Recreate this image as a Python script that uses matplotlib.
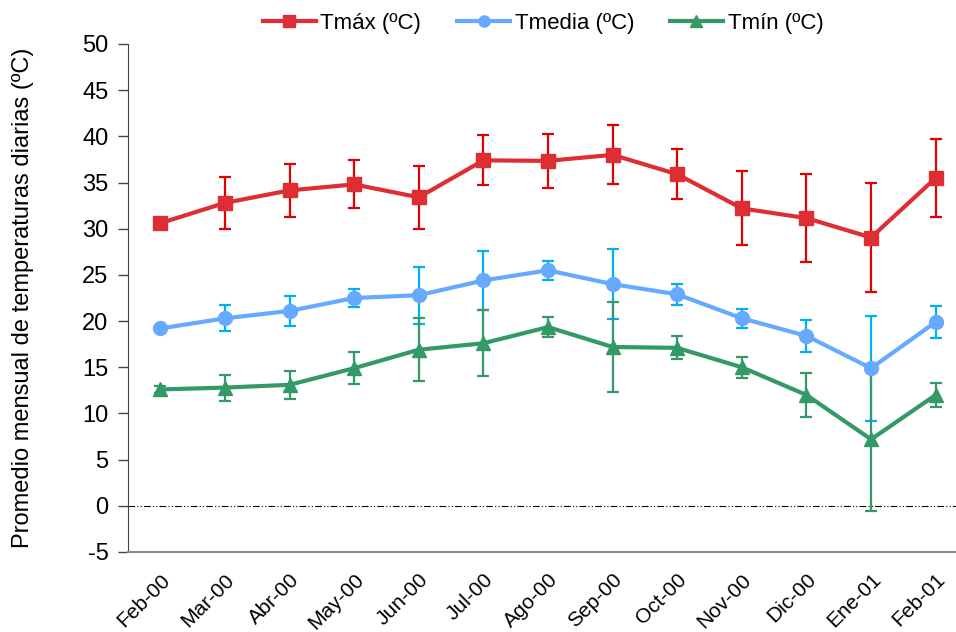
import numpy as np
import matplotlib
matplotlib.use('Agg')
import matplotlib.pyplot as plt

plt.rcParams['font.family'] = ['Liberation Sans', 'DejaVu Sans']
plt.rcParams['axes.unicode_minus'] = False

meses = ['Feb-00', 'Mar-00', 'Abr-00', 'May-00', 'Jun-00', 'Jul-00', 'Ago-00',
         'Sep-00', 'Oct-00', 'Nov-00', 'Dic-00', 'Ene-01', 'Feb-01']

# promedios mensuales y desviaciones
tmax = [30.6, 32.8, 34.15, 34.8, 33.4, 37.4, 37.35, 38.0, 35.9, 32.2, 31.15, 29.05, 35.5]
tmax_sd = [0.0, 2.8, 2.85, 2.6, 3.4, 2.7, 2.95, 3.2, 2.7, 4.0, 4.75, 5.95, 4.2]

tmedia = [19.2, 20.3, 21.1, 22.5, 22.8, 24.4, 25.5, 24.0, 22.9, 20.3, 18.4, 14.9, 19.9]
tmedia_sd = [0.0, 1.4, 1.6, 0.95, 3.1, 3.2, 1.05, 3.8, 1.15, 1.05, 1.7, 5.7, 1.75]

tmin = [12.6, 12.8, 13.1, 14.9, 16.9, 17.6, 19.35, 17.2, 17.1, 15.0, 12.0, 7.2, 12.0]
tmin_sd = [0.4, 1.4, 1.5, 1.7, 3.4, 3.55, 1.05, 4.85, 1.25, 1.15, 2.35, 7.8, 1.25]

x = np.arange(len(meses))

fig = plt.figure(figsize=(9.56, 6.32), dpi=100)
ax = fig.add_axes([128 / 956, 80 / 632, 840 / 956, 508 / 632])

series = [
    (tmax, tmax_sd, 'Tmáx (ºC)', '#DE2E33', '#E00000', 's', 10),
    (tmedia, tmedia_sd, 'Tmedia (ºC)', '#66AAFF', '#00B0F0', 'o', 10),
    (tmin, tmin_sd, 'Tmín (ºC)', '#339966', '#339966', '^', 10),
]

for vals, sd, lab, col, ecol, mk, ms in series:
    ax.errorbar(x, vals, yerr=sd, fmt='none', ecolor=ecol, elinewidth=1.6,
                capsize=4.5, capthick=1.6, zorder=2)
    ax.plot(x, vals, color=col, marker=mk, markersize=ms, linewidth=3,
            label=lab, zorder=3)

ax.axhline(0, color='black', linewidth=0.8, dashes=(6, 2, 1, 2, 1, 2), zorder=1)

ax.set_xlim(-0.5, 12.5)
ax.set_ylim(-5, 50)
ax.set_yticks(np.arange(-5, 51, 5))
ax.set_xticks(x)
ax.set_xticklabels(meses, rotation=45, ha='right', rotation_mode='anchor')

ax.tick_params(axis='y', direction='out', length=7, width=1, labelsize=17, pad=7,
               color='#444444')
ax.tick_params(axis='x', length=0, labelsize=15, pad=13)

ax.spines['top'].set_visible(False)
ax.spines['right'].set_visible(False)
ax.spines['left'].set_color('#444444')
ax.spines['bottom'].set_color('#888888')
ax.spines['bottom'].set_linewidth(1.5)

ax.set_ylabel('Promedio mensual de temperaturas diarias (ºC)', fontsize=17)
ax.yaxis.set_label_coords(-0.112, 0.5)

ax.legend(loc='center', bbox_to_anchor=(543 / 956, 1 - 23 / 632), bbox_transform=fig.transFigure,
          ncol=3, frameon=False, fontsize=16, handlelength=2.4, columnspacing=1.6,
          handletextpad=0.2, markerscale=0.8)

fig.savefig('out.png', dpi=100)
